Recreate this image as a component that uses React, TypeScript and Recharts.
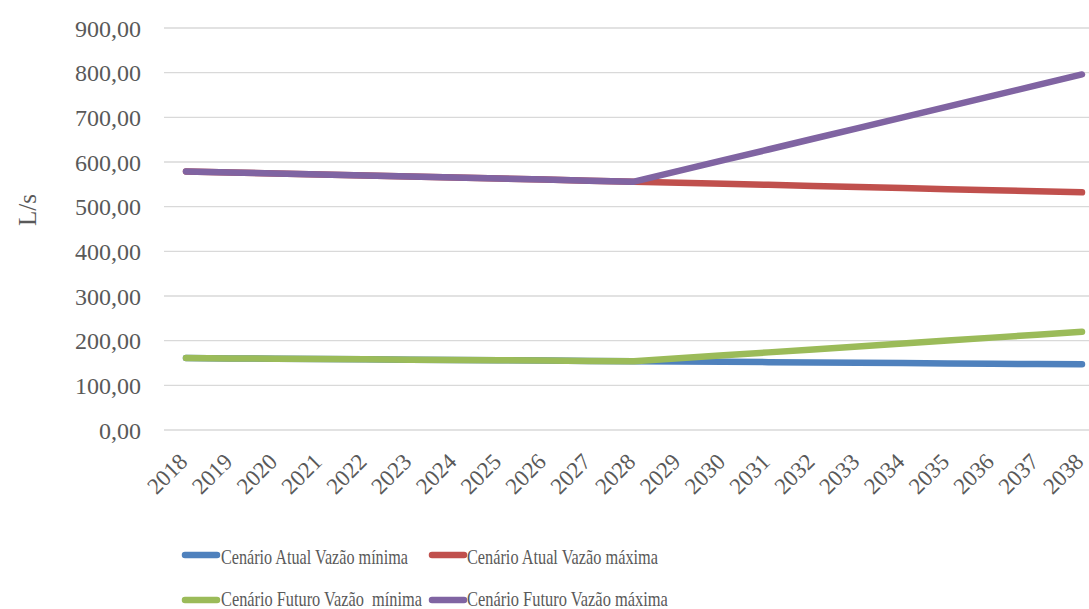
import React, { useLayoutEffect, useRef, useState } from 'react';
import { LineChart, Line, XAxis, YAxis, CartesianGrid, Legend } from 'recharts';

const years = ['2018','2019','2020','2021','2022','2023','2024','2025','2026','2027','2028','2029','2030','2031','2032','2033','2034','2035','2036','2037','2038'];
const atualMin = [161, 160.3, 159.6, 158.9, 158.2, 157.5, 156.8, 156.1, 155.4, 154.7, 154.0, 153.3, 152.6, 151.9, 151.2, 150.5, 149.8, 149.1, 148.4, 147.7, 147.0];
const atualMax = [579, 576.7, 574.4, 572.1, 569.8, 567.5, 565.2, 562.9, 560.6, 558.3, 556.0, 553.6, 551.2, 548.8, 546.4, 544.0, 541.6, 539.2, 536.8, 534.4, 532.0];
const futuroMin = [161, 160.3, 159.6, 158.9, 158.2, 157.5, 156.8, 156.1, 155.4, 154.7, 154.0, 160.6, 167.2, 173.8, 180.4, 187.0, 193.6, 200.2, 206.8, 213.4, 220.0];
const futuroMax = [579, 576.7, 574.4, 572.1, 569.8, 567.5, 565.2, 562.9, 560.6, 558.3, 556.0, 580, 604, 628, 652, 676, 700, 724, 748, 772, 796];
const yTicks = [0, 100, 200, 300, 400, 500, 600, 700, 800, 900];

const seriesNames = ['Cenário Atual Vazão mínima', 'Cenário Atual Vazão máxima', 'Cenário Futuro Vazão  mínima', 'Cenário Futuro Vazão máxima'];
const seriesColors = ['#4F81BD', '#C0504D', '#9BBB59', '#8064A2'];

const data = years.map((y, i) => ({
  year: y,
  atualMin: atualMin[i],
  atualMax: atualMax[i],
  futuroMin: futuroMin[i],
  futuroMax: futuroMax[i],
}));

const FONT = '"Liberation Serif", "DejaVu Serif", serif';
const TEXT = '#595959';

const fmt = (v: number) => v.toFixed(2).replace('.', ',');

const XTick = (props: any) => {
  const { x, y, payload } = props;
  const ax = x + 3;
  const ay = y + 33;
  return (
    <text x={ax} y={ay} textAnchor="end" transform={`rotate(-45 ${ax} ${ay})`} fill={TEXT} fontSize={23} fontFamily={FONT}>
      {payload.value}
    </text>
  );
};

const legendLayout = [
  { iconX: 185, textX: 221, y: 25, base: 33.5, len: 187 },
  { iconX: 432, textX: 467, y: 25, base: 33.5, len: 191 },
  { iconX: 185, textX: 221, y: 70, base: 76, len: 201 },
  { iconX: 432, textX: 467, y: 70, base: 76, len: 201 },
];

const LegendText = ({ x, y, len, children }: any) => {
  const ref = useRef<SVGTextElement>(null);
  const [sx, setSx] = useState(0.77);
  useLayoutEffect(() => {
    if (ref.current) {
      const w = ref.current.getComputedTextLength();
      if (w > 0) setSx(len / w);
    }
  }, [len]);
  return (
    <text ref={ref} x={0} y={0} transform={`translate(${x} ${y}) scale(${sx} 1)`} fontSize={21} fontFamily={FONT} fill={TEXT} style={{ whiteSpace: 'pre' }}>
      {children}
    </text>
  );
};

const LegendContent = () => (
  <div style={{ position: 'relative', height: 0, overflow: 'visible' }}>
    <svg width={1089} height={80} style={{ position: 'absolute', left: 0, top: 0, overflow: 'visible' }}>
      {seriesNames.map((name, i) => {
        const l = legendLayout[i];
        return (
          <g key={name}>
            <line x1={l.iconX} x2={l.iconX + 32} y1={l.y} y2={l.y} stroke={seriesColors[i]} strokeWidth={6.5} strokeLinecap="round" />
            <LegendText x={l.textX} y={l.base} len={l.len}>{name}</LegendText>
          </g>
        );
      })}
    </svg>
  </div>
);

const YLabel = (props: any) => {
  const vb = props.viewBox || { x: 0 };
  const x = (vb.x || 0) + 27;
  const y = 210;
  return (
    <text x={x} y={y} transform={`rotate(-90 ${x} ${y})`} textAnchor="middle" dominantBaseline="central" fill={TEXT} fontSize={25} fontFamily={FONT}>
      L/s
    </text>
  );
};

export default function App() {
  const keys = ['atualMin', 'atualMax', 'futuroMin', 'futuroMax'];
  return (
    <div style={{ position: 'absolute', left: 0, top: 0, width: 1089, height: 609, background: '#fff' }}>
      <LineChart width={1089} height={609} data={data} margin={{ top: 28, right: 0, bottom: 0, left: 0 }}>
        <CartesianGrid vertical={false} stroke="#D9D9D9" strokeWidth={1.3} />
        <XAxis dataKey="year" axisLine={false} tickLine={false} tickSize={0} tickMargin={0} height={179} interval={0} tick={<XTick />} padding={{ left: 22, right: 7 }} />
        <YAxis width={164} domain={[0, 900]} ticks={yTicks} tickFormatter={fmt} axisLine={false} tickLine={false} tickSize={0} tickMargin={23} tick={{ fill: TEXT, fontSize: 24, fontFamily: FONT }} label={<YLabel />} interval={0} />
        <Legend content={<LegendContent />} wrapperStyle={{ top: 530, left: 0, width: 1089, height: 0 }} />
        {keys.map((k, i) => (
          <Line key={k} dataKey={k} name={seriesNames[i]} stroke={seriesColors[i]} strokeWidth={6.5} strokeLinecap="round" strokeLinejoin="round" dot={false} activeDot={false} isAnimationActive={false} type="linear" />
        ))}
      </LineChart>
    </div>
  );
}
